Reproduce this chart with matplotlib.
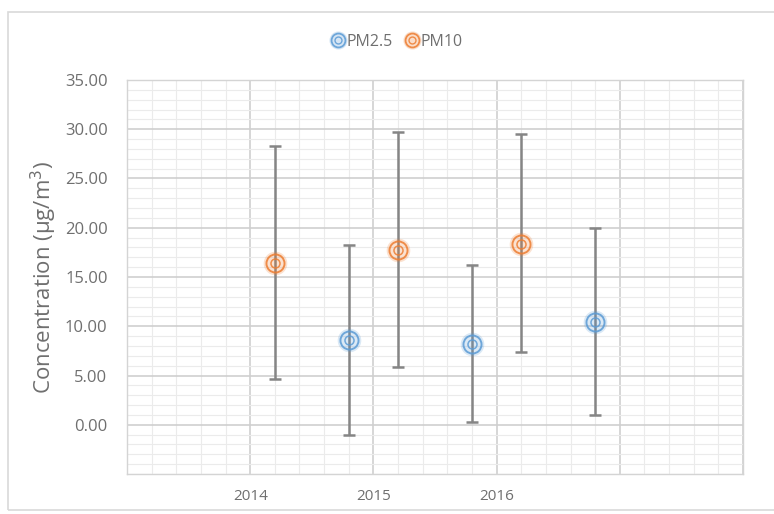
import matplotlib
matplotlib.use("Agg")
import matplotlib.pyplot as plt
from matplotlib.lines import Line2D
from matplotlib.patches import Rectangle
from matplotlib.ticker import MultipleLocator
from matplotlib import font_manager
import numpy as np

# ---- data ----
x_tick_labels = ["", "2014", "2015", "2016", "", ""]
pm25_x = [1.8, 2.8, 3.8]
pm25_mean = [8.6, 8.2, 10.4]
pm25_lower = [9.6, 7.9, 9.4]
pm25_upper = [9.6, 8.0, 9.6]
pm10_x = [1.2, 2.2, 3.2]
pm10_mean = [16.4, 17.7, 18.3]
pm10_lower = [11.8, 11.8, 10.9]
pm10_upper = [11.9, 12.0, 11.2]
y_ticks = [0, 5, 10, 15, 20, 25, 30, 35]

BLUE = "#5B9BD5"
ORANGE = "#ED7D31"
TXT = "#6f6f6f"

names = {f.name for f in font_manager.fontManager.ttflist}
NARROW = ["Liberation Sans Narrow", "DejaVu Sans"] if "Liberation Sans Narrow" in names else ["Open Sans", "DejaVu Sans"]

fig = plt.figure(figsize=(7.74, 5.14), dpi=100)
fig.patches.append(Rectangle((8/774, 4/514), 1.0, (514-12-4)/514, transform=fig.transFigure,
                             fill=False, edgecolor="#d9d9d9", linewidth=1.2))
ax = fig.add_axes([127/774, 40/514, (743-127)/774, (474-80)/514])

ax.set_xlim(0, 5)
ax.set_ylim(-5, 35)
ax.set_xticks(range(len(x_tick_labels)))
ax.set_xticklabels(x_tick_labels, color=TXT, fontsize=11, family=NARROW)
ax.xaxis.set_minor_locator(MultipleLocator(0.2))
ax.set_yticks(y_ticks)
ax.set_yticklabels([f"{v:.2f}" for v in y_ticks], color=TXT, fontsize=12, family=NARROW)
ax.yaxis.set_minor_locator(MultipleLocator(1))
ax.tick_params(which="both", length=0)
ax.tick_params(axis="x", pad=11)
ax.tick_params(axis="y", pad=14)
ax.grid(which="major", color="#cfcfcf", linewidth=1.2)
ax.grid(which="minor", color="#ebebeb", linewidth=0.8)
ax.set_axisbelow(True)
for s in ax.spines.values():
    s.set_color("#d4d4d4")
    s.set_linewidth(1.0)

def draw(xs, mean, lo, hi, color):
    ax.errorbar(xs, mean, yerr=[lo, hi], fmt="none", ecolor="#858585",
                elinewidth=1.8, capsize=4, capthick=1.8, zorder=3)
    ax.plot(xs, mean, "o", ms=17, mfc=color, mec=color, alpha=0.22, zorder=4, mew=0)
    ax.plot(xs, mean, "o", ms=13, mfc="none", mec=color, mew=1.4, alpha=0.85, zorder=5)
    ax.plot(xs, mean, "o", ms=6.5, mfc="none", mec=color, mew=1.1, alpha=0.85, zorder=5)

draw(pm25_x, pm25_mean, pm25_lower, pm25_upper, BLUE)
draw(pm10_x, pm10_mean, pm10_lower, pm10_upper, ORANGE)

ax.set_ylabel("Concentration (μg/m$^3$)", color=TXT, fontsize=16, labelpad=4,
              family=["Open Sans", "DejaVu Sans"])

def handle(color):
    return (Line2D([], [], ls="none", marker="o", ms=13, mfc=color, mec=color, alpha=0.25, mew=0),
            Line2D([], [], ls="none", marker="o", ms=10, mfc="none", mec=color, mew=1.3, alpha=0.85),
            Line2D([], [], ls="none", marker="o", ms=5, mfc="none", mec=color, mew=1.0, alpha=0.85))

fig.legend([handle(BLUE), handle(ORANGE)], ["PM2.5", "PM10"], loc="center",
           bbox_to_anchor=(397/774, 1 - 42/514), ncol=2, frameon=False,
           handlelength=0.8, handletextpad=0.15, columnspacing=0.8,
           prop={"family": NARROW, "size": 11.5}, labelcolor=TXT)

fig.savefig("out.png", dpi=100)
